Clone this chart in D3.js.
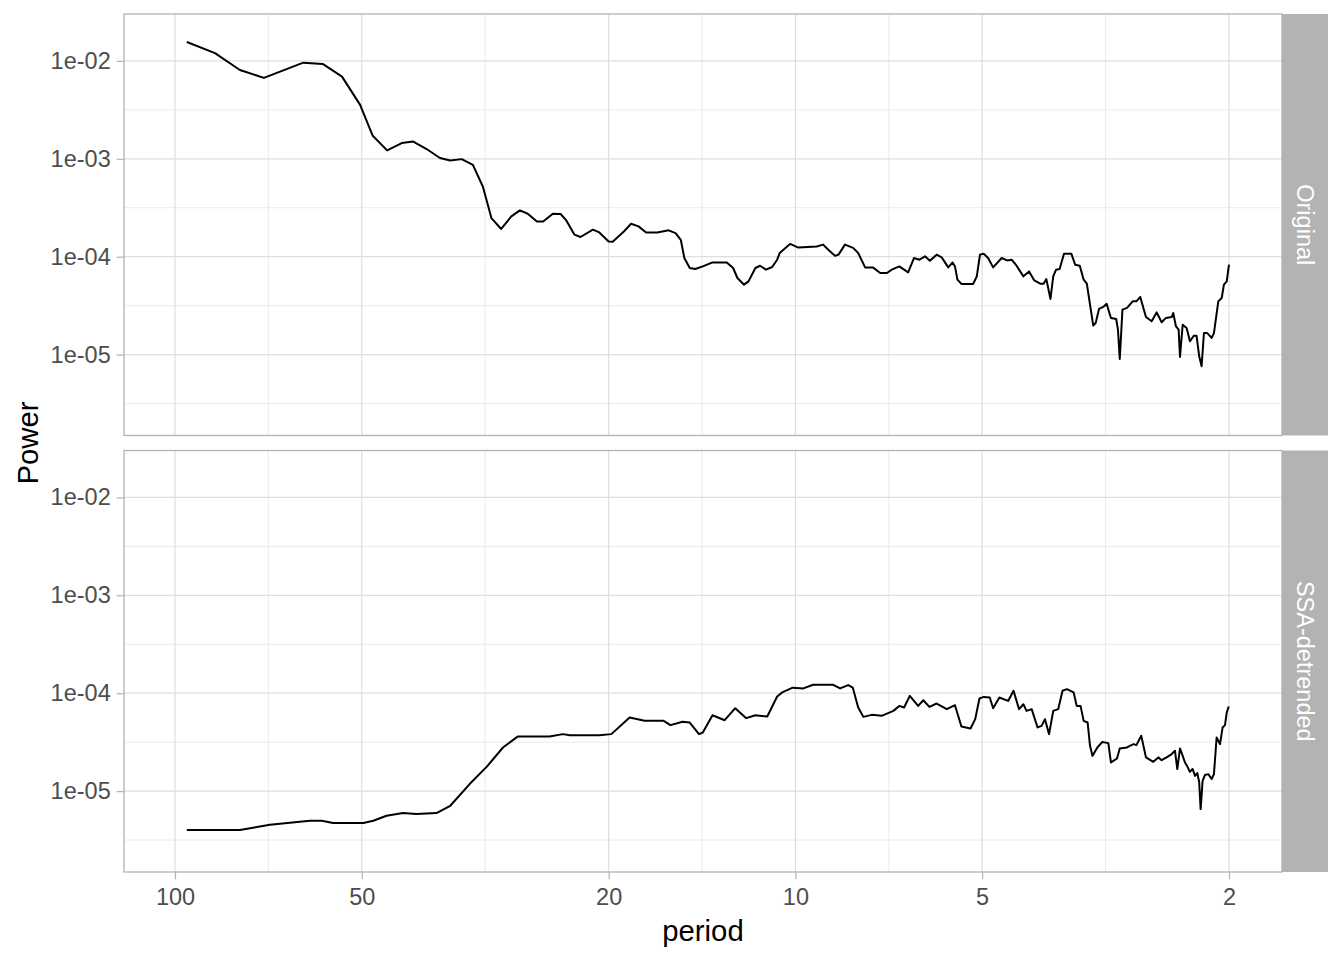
<!DOCTYPE html>
<html>
<head>
<meta charset="utf-8">
<script src="https://cdn.jsdelivr.net/npm/d3@7"></script>
<style>
  body { margin: 0; background: #fff; }
  svg { font-family: "Liberation Sans", Arial, sans-serif; }
</style>
</head>
<body>
<svg id="chart"></svg>
<script>
let width = 1344;
let height = 960;

// facet strips
let facets = ['Original', 'SSA-detrended'];

// axis ticks
let periodTicks = [100, 50, 20, 10, 5, 2];
let powerTicks = [1e-2, 1e-3, 1e-4, 1e-5];
let powerTickLabels = ['1e-02', '1e-03', '1e-04', '1e-05'];

// Original spectrum
let originalPeriod = [95.7, 86.2, 78.6, 71.9, 62.1, 57.8, 53.8, 50.3, 48.0, 45.5, 43.1, 41.3, 39.3, 37.4, 36.0, 34.5, 33.1, 31.9, 30.9, 29.8,
  28.7, 27.8, 27.0, 26.1, 25.5, 24.6, 23.9, 23.4, 22.7, 22.2, 21.2, 20.7, 20.0, 19.7, 18.9, 18.4, 17.9, 17.4, 16.7, 16.0,
  15.6, 15.3, 15.1, 14.8, 14.5, 14.1, 13.6, 12.9, 12.6, 12.4, 12.1, 11.9, 11.6, 11.4, 11.15, 10.9, 10.7, 10.6, 10.2, 9.89,
  9.24, 9.02, 8.85, 8.63, 8.52, 8.32, 8.07, 7.92, 7.72, 7.50, 7.30, 7.12, 6.99, 6.80, 6.58, 6.44, 6.31, 6.18, 6.07, 5.92,
  5.81, 5.67, 5.58, 5.53, 5.48, 5.40, 5.17, 5.10, 5.04, 4.97, 4.89, 4.80, 4.65, 4.56, 4.48, 4.40, 4.29, 4.20, 4.12, 4.03,
  3.98, 3.94, 3.88, 3.84, 3.80, 3.75, 3.69, 3.59, 3.54, 3.48, 3.43, 3.39, 3.35, 3.31, 3.28, 3.24, 3.19, 3.15, 3.10, 3.04,
  3.02, 3.00, 2.97, 2.92, 2.86, 2.82, 2.78, 2.722, 2.665, 2.616, 2.568, 2.527, 2.474, 2.460, 2.435, 2.411, 2.399, 2.375, 2.341, 2.312,
  2.278, 2.256, 2.234, 2.214, 2.195, 2.168, 2.133, 2.115, 2.081, 2.055, 2.038, 2.017, 2.0];
let originalPower = [1.56e-2, 1.20e-2, 8.09e-3, 6.71e-3, 9.61e-3, 9.32e-3, 6.92e-3, 3.56e-3, 1.72e-3, 1.22e-3, 1.45e-3, 1.50e-3, 1.26e-3, 1.02e-3, 9.61e-4, 9.93e-4, 8.69e-4, 5.22e-4, 2.48e-4, 1.92e-4,
  2.58e-4, 2.97e-4, 2.75e-4, 2.29e-4, 2.29e-4, 2.75e-4, 2.73e-4, 2.35e-4, 1.68e-4, 1.59e-4, 1.89e-4, 1.77e-4, 1.43e-4, 1.42e-4, 1.81e-4, 2.17e-4, 2.04e-4, 1.77e-4, 1.77e-4, 1.86e-4,
  1.74e-4, 1.49e-4, 9.70e-5, 7.67e-5, 7.49e-5, 7.96e-5, 8.74e-5, 8.74e-5, 7.67e-5, 6.06e-5, 5.18e-5, 5.60e-5, 7.67e-5, 8.09e-5, 7.37e-5, 7.85e-5, 9.32e-5, 1.09e-4, 1.35e-4, 1.24e-4,
  1.27e-4, 1.33e-4, 1.18e-4, 1.02e-4, 1.05e-4, 1.33e-4, 1.23e-4, 1.09e-4, 7.78e-5, 7.78e-5, 6.82e-5, 6.82e-5, 7.37e-5, 7.96e-5, 6.92e-5, 9.70e-5, 9.32e-5, 1.01e-4, 9.10e-5, 1.05e-4,
  9.84e-5, 7.78e-5, 8.74e-5, 7.96e-5, 5.83e-5, 5.27e-5, 5.27e-5, 6.30e-5, 1.05e-4, 1.07e-4, 9.70e-5, 7.78e-5, 9.70e-5, 9.17e-5, 9.32e-5, 8.09e-5, 6.30e-5, 7.08e-5, 5.73e-5, 5.30e-5,
  5.30e-5, 5.92e-5, 3.70e-5, 6.30e-5, 7.37e-5, 7.49e-5, 1.07e-4, 1.07e-4, 8.29e-5, 8.09e-5, 5.83e-5, 5.30e-5, 3.24e-5, 1.98e-5, 2.11e-5, 2.93e-5, 3.07e-5, 3.31e-5, 2.37e-5, 2.31e-5,
  1.80e-5, 9.04e-6, 2.88e-5, 3.00e-5, 3.50e-5, 3.50e-5, 3.88e-5, 2.42e-5, 2.19e-5, 2.70e-5, 2.14e-5, 2.37e-5, 2.42e-5, 2.66e-5, 1.94e-5, 1.80e-5, 9.47e-6, 2.02e-5, 1.87e-5, 1.37e-5,
  1.56e-5, 1.56e-5, 9.61e-6, 7.60e-6, 1.66e-5, 1.66e-5, 1.48e-5, 1.66e-5, 3.50e-5, 3.79e-5, 5.18e-5, 5.60e-5, 8.29e-5];

// SSA-detrended spectrum
let detrendedPeriod = [95.7, 78.6, 70.3, 60.6, 58.0, 55.6, 49.7, 47.9, 45.6, 42.9, 40.8, 37.9, 36.0, 33.5, 31.4, 29.6, 28.0, 24.9, 23.7, 23.1,
  20.7, 19.8, 18.5, 17.5, 16.3, 15.9, 15.2, 14.8, 14.3, 14.1, 13.6, 13.0, 12.5, 12.0, 11.6, 11.1, 10.7, 10.5, 10.1, 9.71,
  9.36, 8.69, 8.47, 8.22, 8.08, 7.92, 7.77, 7.53, 7.26, 6.95, 6.80, 6.68, 6.54, 6.34, 6.22, 6.08, 5.92, 5.70, 5.53, 5.40,
  5.22, 5.13, 5.05, 4.97, 4.86, 4.80, 4.69, 4.54, 4.45, 4.36, 4.29, 4.24, 4.16, 4.07, 4.01, 3.96, 3.90, 3.84, 3.77, 3.71,
  3.65, 3.56, 3.52, 3.47, 3.43, 3.38, 3.35, 3.32, 3.26, 3.20, 3.13, 3.10, 3.03, 3.00, 2.92, 2.89, 2.85, 2.82, 2.77, 2.722,
  2.649, 2.600, 2.568, 2.521, 2.474, 2.444, 2.423, 2.399, 2.375, 2.355, 2.335, 2.312, 2.289, 2.269, 2.250, 2.234, 2.222, 2.206, 2.187, 2.160,
  2.133, 2.115, 2.094, 2.068, 2.048, 2.030, 2.017, 2.002];
let detrendedPower = [4.00e-6, 4.00e-6, 4.53e-6, 4.98e-6, 4.98e-6, 4.72e-6, 4.72e-6, 4.98e-6, 5.60e-6, 5.96e-6, 5.83e-6, 5.96e-6, 7.08e-6, 1.18e-5, 1.79e-5, 2.79e-5, 3.62e-5, 3.62e-5, 3.82e-5, 3.73e-5,
  3.73e-5, 3.82e-5, 5.65e-5, 5.22e-5, 5.22e-5, 4.72e-5, 5.10e-5, 5.02e-5, 3.82e-5, 3.97e-5, 5.96e-5, 5.30e-5, 7.03e-5, 5.56e-5, 5.96e-5, 5.78e-5, 9.25e-5, 1.02e-4, 1.14e-4, 1.12e-4,
  1.22e-4, 1.22e-4, 1.12e-4, 1.21e-4, 1.14e-4, 7.15e-5, 5.73e-5, 6.01e-5, 5.87e-5, 6.60e-5, 7.42e-5, 7.15e-5, 9.39e-5, 7.42e-5, 8.48e-5, 7.25e-5, 7.85e-5, 6.87e-5, 7.54e-5, 4.57e-5,
  4.36e-5, 5.43e-5, 8.83e-5, 9.17e-5, 9.05e-5, 7.03e-5, 9.05e-5, 8.34e-5, 1.06e-4, 6.87e-5, 7.72e-5, 6.60e-5, 6.87e-5, 4.47e-5, 4.64e-5, 5.43e-5, 3.82e-5, 6.60e-5, 6.87e-5, 1.06e-4,
  1.10e-4, 1.02e-4, 7.42e-5, 7.42e-5, 5.22e-5, 5.02e-5, 2.90e-5, 2.29e-5, 2.79e-5, 3.18e-5, 3.09e-5, 1.96e-5, 2.16e-5, 2.73e-5, 2.79e-5, 2.90e-5, 3.02e-5, 2.95e-5, 3.67e-5, 2.21e-5,
  1.99e-5, 2.21e-5, 2.07e-5, 2.21e-5, 2.39e-5, 2.58e-5, 1.68e-5, 2.73e-5, 2.29e-5, 1.96e-5, 1.79e-5, 1.57e-5, 1.68e-5, 1.43e-5, 1.53e-5, 1.23e-5, 6.55e-6, 1.27e-5, 1.46e-5, 1.49e-5,
  1.33e-5, 1.49e-5, 3.53e-5, 3.02e-5, 4.47e-5, 4.72e-5, 6.35e-5, 7.31e-5];

let series = [
  originalPeriod.map((p, i) => ({period: p, power: originalPower[i]})),
  detrendedPeriod.map((p, i) => ({period: p, power: detrendedPower[i]}))
];

// layout
let panelLeft = 124, panelRight = 1282, stripW = 46;
let panelGap = 15, panelFirstTop = 14, panelBottom = 872;
let panelH = (panelBottom - panelFirstTop - panelGap) / 2;

let svg = d3.select('#chart')
            .attr('width', width)
            .attr('height', height);

let x = d3.scaleLog()
          .domain([Math.pow(10, 2.0822), Math.pow(10, 0.2156)])
          .range([panelLeft, panelRight]);

let y = d3.scaleLog()
          .domain([Math.pow(10, -1.5204), Math.pow(10, -5.8265)])
          .range([0, panelH]);

// minor breaks sit half way (in log space) between major ones
let minorX = d3.pairs(periodTicks).map(p => Math.sqrt(p[0] * p[1]));
let minorY = powerTicks.map(t => t / Math.sqrt(10));

let line = d3.line()
             .x(d => x(d.period))
             .y(d => y(d.power));

facets.forEach(function(name, i) {
  let top = panelFirstTop + i * (panelH + panelGap);
  let g = svg.append('g').attr('transform', 'translate(0,' + top + ')');

  g.append('clipPath').attr('id', 'clip' + i)
   .append('rect')
   .attr('x', panelLeft).attr('y', 0)
   .attr('width', panelRight - panelLeft).attr('height', panelH);

  // minor grid
  g.selectAll('.minor-x').data(minorX).enter().append('line')
   .attr('x1', d => x(d)).attr('x2', d => x(d))
   .attr('y1', 0).attr('y2', panelH)
   .attr('stroke', '#E4E4E4').attr('stroke-width', 0.8);
  g.selectAll('.minor-y').data(minorY.filter(d => y(d) > 0 && y(d) < panelH)).enter().append('line')
   .attr('x1', panelLeft).attr('x2', panelRight)
   .attr('y1', d => y(d)).attr('y2', d => y(d))
   .attr('stroke', '#E4E4E4').attr('stroke-width', 0.8);

  // major grid
  g.selectAll('.major-x').data(periodTicks).enter().append('line')
   .attr('x1', d => x(d)).attr('x2', d => x(d))
   .attr('y1', 0).attr('y2', panelH)
   .attr('stroke', '#DEDEDE').attr('stroke-width', 1.2);
  g.selectAll('.major-y').data(powerTicks).enter().append('line')
   .attr('x1', panelLeft).attr('x2', panelRight)
   .attr('y1', d => y(d)).attr('y2', d => y(d))
   .attr('stroke', '#DEDEDE').attr('stroke-width', 1.2);

  // spectrum
  g.append('path')
   .datum(series[i])
   .attr('clip-path', 'url(#clip' + i + ')')
   .attr('d', line)
   .attr('fill', 'none')
   .attr('stroke', '#000')
   .attr('stroke-width', 2)
   .attr('stroke-linejoin', 'round');

  // panel border
  g.append('rect')
   .attr('x', panelLeft).attr('y', 0)
   .attr('width', panelRight - panelLeft).attr('height', panelH)
   .attr('fill', 'none')
   .attr('stroke', '#B3B3B3').attr('stroke-width', 1.3);

  // y axis
  let yAxis = d3.axisLeft(y)
                .tickValues(powerTicks)
                .tickFormat((d, k) => powerTickLabels[k])
                .tickSize(7.3)
                .tickPadding(6);
  let ya = g.append('g').attr('transform', 'translate(' + panelLeft + ',0)').call(yAxis);
  ya.select('.domain').remove();
  ya.selectAll('.tick line').attr('stroke', '#B3B3B3').attr('stroke-width', 1.2);
  ya.selectAll('.tick text')
    .attr('fill', '#4D4D4D')
    .style('font-size', '23.5px')
    .style('font-family', '"Liberation Sans", Arial, sans-serif');

  // strip
  g.append('rect')
   .attr('x', panelRight).attr('y', 0)
   .attr('width', stripW).attr('height', panelH)
   .attr('fill', '#B3B3B3');
  g.append('text')
   .attr('transform', 'translate(' + (panelRight + stripW / 2) + ',' + (panelH / 2) + ') rotate(90)')
   .attr('text-anchor', 'middle')
   .attr('dy', '0.35em')
   .attr('fill', '#fff')
   .style('font-size', '23.5px')
   .text(name);

  // x axis on the bottom panel only
  if (i === facets.length - 1) {
    let xAxis = d3.axisBottom(x)
                  .tickValues(periodTicks)
                  .tickFormat(d3.format('d'))
                  .tickSize(7.3)
                  .tickPadding(9);
    let xa = g.append('g').attr('transform', 'translate(0,' + panelH + ')').call(xAxis);
    xa.select('.domain').remove();
    xa.selectAll('.tick line').attr('stroke', '#B3B3B3').attr('stroke-width', 1.2);
    xa.selectAll('.tick text')
      .attr('fill', '#4D4D4D')
      .style('font-size', '23.5px')
      .style('font-family', '"Liberation Sans", Arial, sans-serif');
  }
});

// axis titles
svg.append('text')
   .attr('x', (panelLeft + panelRight) / 2)
   .attr('y', 941)
   .attr('text-anchor', 'middle')
   .attr('fill', '#000')
   .style('font-size', '29.3px')
   .text('period');

svg.append('text')
   .attr('transform', 'translate(38,' + ((panelFirstTop + panelBottom) / 2) + ') rotate(-90)')
   .attr('text-anchor', 'middle')
   .attr('fill', '#000')
   .style('font-size', '29.3px')
   .text('Power');
</script>
</body>
</html>
